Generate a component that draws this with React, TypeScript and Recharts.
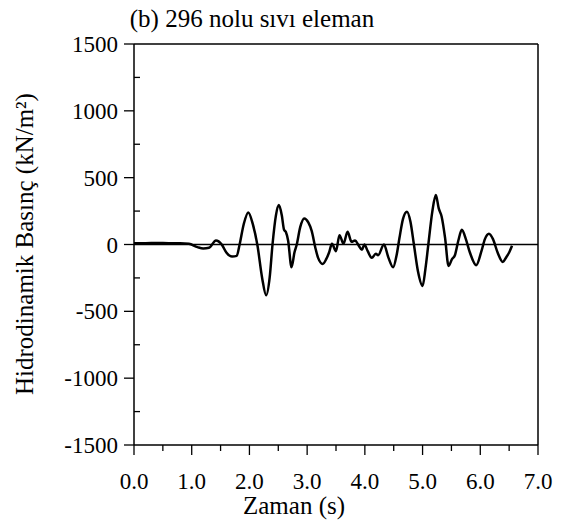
import React from 'react';
import { LineChart, Line, XAxis, YAxis, ReferenceLine } from 'recharts';

// time (s) and hydrodynamic pressure (kN/m²)
const times = [
  0, 0.2, 0.4, 0.6, 0.8, 0.95, 1.1, 1.2, 1.3, 1.42, 1.52, 1.6, 1.7, 1.78, 1.83, 1.9, 1.98, 2.06,
  2.14, 2.22, 2.29, 2.35, 2.4, 2.46, 2.51, 2.56, 2.6, 2.63, 2.67, 2.73, 2.78, 2.82, 2.88, 2.95,
  3.02, 3.08, 3.14, 3.19, 3.27, 3.33, 3.38, 3.43, 3.5, 3.56, 3.63, 3.7, 3.77, 3.83, 3.89, 3.95,
  3.99, 4.05, 4.12, 4.19, 4.23, 4.33, 4.41, 4.49, 4.55, 4.6, 4.66, 4.73, 4.79, 4.85, 4.92, 5.0,
  5.05, 5.1, 5.17, 5.23, 5.28, 5.33, 5.39, 5.45, 5.51, 5.56, 5.62, 5.68, 5.75, 5.82, 5.93, 6.02,
  6.08, 6.15, 6.22, 6.3, 6.39, 6.45, 6.5, 6.55,
];
const pressures = [
  10, 10, 12, 10, 10, 5, -20, -30, -25, 30, 0, -60, -90, -85, 0, 150, 240, 150,
  -10, -250, -380, -250, 0, 220, 295, 220, 110, 95, 30, -170, -60, 0, 130, 195,
  165, 100, -20, -100, -145, -110, -60, 5, -50, 70, 5, 95, 20, 30, -5, -40,
  0, -50, -100, -70, -80, 0, -100, -170, -80, 50, 190, 245, 170, 0, -200, -310,
  -180, 0, 250, 370, 270, 210, 50, -160, -110, -80, 30, 110, 40, -60, -155, -50,
  40, 80, 40, -60, -130, -95, -60, -10,
];

const xTicks = [0, 0.5, 1, 1.5, 2, 2.5, 3, 3.5, 4, 4.5, 5, 5.5, 6, 6.5, 7];
const yTicks = [-1500, -1250, -1000, -750, -500, -250, 0, 250, 500, 750, 1000, 1250, 1500];

const data = times.map((t, i) => ({ t, p: pressures[i] }));

const FONT = '"Liberation Serif", "DejaVu Serif", serif';

function XTick({ x, y, payload }: any) {
  const major = Number.isInteger(payload.value);
  return (
    <g>
      <line x1={x} x2={x} y1={y} y2={y + (major ? 10 : 6)} stroke="#000" strokeWidth={1.3} />
      {major && (
        <text x={x} y={y + 44} textAnchor="middle" style={{ fontFamily: FONT, fontSize: 23 }} fill="#000">
          {payload.value.toFixed(1)}
        </text>
      )}
    </g>
  );
}

function YTick({ x, y, payload }: any) {
  const major = payload.value % 500 === 0;
  if (!major) {
    return <line x1={x} x2={x + 6} y1={y} y2={y} stroke="#000" strokeWidth={1.3} />;
  }
  return (
    <g>
      <line x1={x - 10} x2={x} y1={y} y2={y} stroke="#000" strokeWidth={1.3} />
      <text x={x - 16} y={y} dy="0.35em" textAnchor="end" style={{ fontFamily: FONT, fontSize: 23 }} fill="#000">
        {payload.value}
      </text>
    </g>
  );
}

export default function App() {
  return (
    <div style={{ position: 'absolute', left: 0, top: 0, width: 570, height: 532, background: '#fff', fontFamily: FONT, color: '#000' }}>
      <LineChart width={570} height={532} data={data} margin={{ top: 44, right: 32, bottom: 57, left: 74 }}>
        <XAxis
          dataKey="t"
          type="number"
          domain={[0, 7]}
          ticks={xTicks}
          interval={0}
          height={30}
          tickSize={0}
          tickMargin={0}
          tickLine={false}
          axisLine={{ stroke: '#000', strokeWidth: 1.5 }}
          tick={<XTick />}
        />
        <YAxis
          type="number"
          domain={[-1500, 1500]}
          ticks={yTicks}
          interval={0}
          width={60}
          tickSize={0}
          tickMargin={0}
          tickLine={false}
          axisLine={{ stroke: '#000', strokeWidth: 1.5 }}
          tick={<YTick />}
        />
        <ReferenceLine y={1500} stroke="#000" strokeWidth={1.5} />
        <ReferenceLine x={7} stroke="#000" strokeWidth={1.5} />
        <ReferenceLine y={0} stroke="#000" strokeWidth={1.5} />
        <Line
          dataKey="p"
          type="monotone"
          stroke="#000"
          strokeWidth={2.5}
          dot={false}
          isAnimationActive={false}
        />
      </LineChart>
      <div style={{ position: 'absolute', left: 52, top: 5, width: 400, textAlign: 'center', fontSize: 25, lineHeight: '28px' }}>
        (b) 296 nolu sıvı eleman
      </div>
      <div style={{ position: 'absolute', left: 194, top: 492, width: 200, textAlign: 'center', fontSize: 25, lineHeight: '28px' }}>
        Zaman (s)
      </div>
      <div
        style={{
          position: 'absolute',
          left: 25 - 200,
          top: 244 - 15,
          width: 400,
          height: 30,
          lineHeight: '30px',
          textAlign: 'center',
          fontSize: 25,
          transform: 'rotate(-90deg)',
          transformOrigin: 'center',
          whiteSpace: 'nowrap',
        }}
      >
        Hidrodinamik Basınç (kN/m²)
      </div>
    </div>
  );
}
